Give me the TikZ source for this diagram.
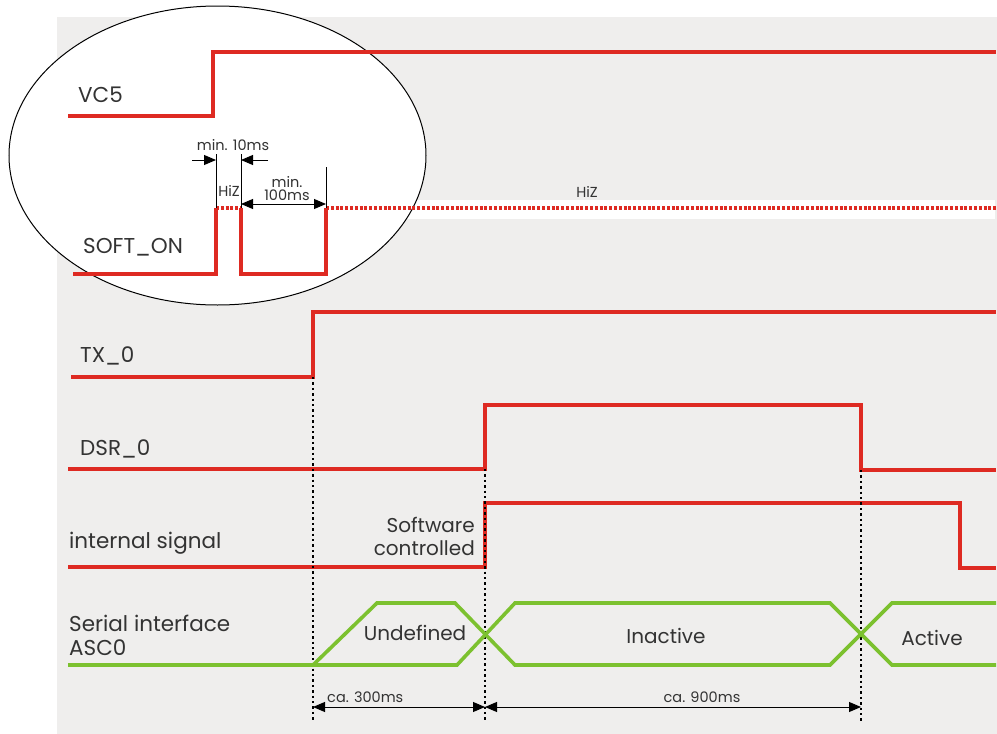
\documentclass[tikz,border=0pt]{standalone}
\usepackage{fontspec}
\setmainfont{Poppins}
\usetikzlibrary{arrows.meta}
\definecolor{sigred}{HTML}{DE2A22}
\definecolor{siggreen}{HTML}{7CC12F}
\definecolor{bggrey}{HTML}{EFEEED}
\definecolor{txt}{HTML}{333333}
\begin{document}
\begin{tikzpicture}[x=1pt,y=-1pt,
  redsig/.style={draw=sigred,line width=3.6pt,line join=miter},
  redhiz/.style={draw=sigred,line width=3.2pt,dash pattern=on 3pt off 1.8pt},
  greensig/.style={draw=siggreen,line width=3.6pt,line join=miter},
  guide/.style={draw=black,line width=2.4pt,dash pattern=on 2.4pt off 3pt},
  thinline/.style={draw=black,line width=0.9pt},
  dimarrow/.style={draw=black,line width=0.9pt,-{Triangle[length=12pt,width=10pt]}},
  dimboth/.style={draw=black,line width=0.9pt,{Triangle[length=12pt,width=10pt]}-{Triangle[length=12pt,width=10pt]}},
  siglabel/.style={anchor=west,text=txt,font=\fontsize{21.5}{24}\selectfont,inner sep=0pt},
  midlabel/.style={text=txt,font=\fontsize{20}{23}\selectfont,inner sep=0pt},
  smalllabel/.style={text=txt,font=\fontsize{14.5}{14}\selectfont,inner sep=0pt,align=center}
]
\useasboundingbox (0,0) rectangle (997,734);
\fill[white] (0,0) rectangle (997,734);
\fill[bggrey] (57,17) rectangle (997,734);
% white band behind HiZ line
\fill[white] (400,200) rectangle (995,219);
% ellipse
\draw[fill=white,line width=1pt] (217.5,155.5) ellipse [x radius=208.5pt, y radius=149.5pt];

% ---------- VC5 ----------
\node[siglabel] (lvc5) at (78,95) {VC5};
\coordinate (vc5a) at (68,116);
\coordinate (vc5b) at (213,116);
\coordinate (vc5c) at (213,52);
\coordinate (vc5d) at (996,52);
\draw[redsig] (vc5a) -- (vc5b) -- (vc5c) -- (vc5d);

% ---------- SOFT_ON ----------
\node[siglabel] (lsoft) at (83,247) {SOFT\_ON};
\coordinate (so1) at (73,274);
\coordinate (so2) at (216,274);
\coordinate (so3) at (216,208);
\coordinate (so4) at (241,208);
\coordinate (so5) at (241,274);
\coordinate (so6) at (326,274);
\coordinate (so7) at (326,208);
\coordinate (so8) at (996,208);
\draw[redsig] (so1) -- (so2) -- (so3);
\draw[redhiz] (so3) -- (so4);
\draw[redsig] (so4) -- (so5) -- (so6) -- (so7);
\draw[redhiz] (so7) -- (so8);

% dimension lines inside ellipse
\coordinate (d1t) at (216,154);
\coordinate (d2t) at (241,154);
\coordinate (d3t) at (326,167);
\draw[thinline] (d1t) -- (so3);
\draw[thinline] (d2t) -- (so4);
\draw[thinline] (d3t) -- (so7);
\coordinate (a1s) at (192,160);
\coordinate (a1e) at (216,160);
\coordinate (a2s) at (268,160);
\coordinate (a2e) at (241,160);
\draw[dimarrow] (a1s) -- (a1e);
\draw[dimarrow] (a2s) -- (a2e);
\node[smalllabel] (l10ms) at (233,145) {min. 10ms};
\node[smalllabel] (lhiz1) at (229,191) {HiZ};
\coordinate (b1) at (241,204);
\coordinate (b2) at (326,204);
\draw[dimboth] (b1) -- (b2);
\node[smalllabel] (lmin) at (287,182) {min.};
\node[smalllabel] (l100) at (287,195) {100ms};
\node[smalllabel] (lhiz2) at (587,192) {HiZ};

% ---------- TX_0 ----------
\node[siglabel] (ltx) at (80,356) {TX\_0};
\coordinate (tx1) at (71,377);
\coordinate (tx2) at (313,377);
\coordinate (tx3) at (313,312);
\coordinate (tx4) at (996,312);
\draw[redsig] (tx1) -- (tx2) -- (tx3) -- (tx4);

% ---------- DSR_0 ----------
\node[siglabel] (ldsr) at (80,449) {DSR\_0};
\coordinate (ds1) at (68,469);
\coordinate (ds2) at (485,469);
\coordinate (ds3) at (485,405);
\coordinate (ds4) at (861,405);
\coordinate (ds5) at (861,470);
\coordinate (ds6) at (996,470);
\draw[redsig] (ds1) -- (ds2) -- (ds3) -- (ds4) -- (ds5) -- (ds6);

% ---------- internal signal ----------
\node[siglabel] (lint) at (69,543) {internal signal};
\node[midlabel,anchor=east,align=right] (lsw) at (475,536) {Software\\controlled};
\coordinate (in1) at (68,567);
\coordinate (in2) at (485,567);
\coordinate (in3) at (485,503);
\coordinate (in4) at (960,503);
\coordinate (in5) at (960,568);
\coordinate (in6) at (996,568);
\draw[redsig] (in1) -- (in2) -- (in3) -- (in4) -- (in5) -- (in6);

% ---------- guides ----------
\coordinate (g1b) at (313,722);
\coordinate (g2b) at (485,722);
\coordinate (g3b) at (861,722);
\draw[guide] (tx2) -- (g1b);
\draw[guide] (ds2) -- (g2b);
\draw[guide] (ds5) -- (g3b);

% ---------- Serial interface ASC0 ----------
\node[siglabel,align=left] (lasc) at (69,635) {Serial interface\\ASC0};
\coordinate (gr0) at (68,665);
\coordinate (gr1) at (313,665);
\coordinate (gr2) at (377,603);
\coordinate (gr3) at (455,603);
\coordinate (gr4) at (457,665);
\coordinate (gr5) at (515,603);
\coordinate (gr6) at (515,665);
\coordinate (gr7) at (830,603);
\coordinate (gr8) at (830,665);
\coordinate (gr9) at (892,603);
\coordinate (gr10) at (892,665);
\coordinate (gr11) at (996,603);
\coordinate (gr12) at (996,665);
\draw[greensig] (gr0) -- (gr1) -- (gr2) -- (gr3) -- (gr6) -- (gr8) -- (gr9) -- (gr11);
\draw[greensig] (gr1) -- (gr4) -- (gr5) -- (gr7) -- (gr10) -- (gr12);
\node[midlabel] (lund) at (415,633) {Undefined};
\node[midlabel] (lina) at (666,636) {Inactive};
\node[midlabel] (lact) at (932,638) {Active};

% ---------- bottom dimensions ----------
\coordinate (m1) at (313,707);
\coordinate (m2) at (485,707);
\coordinate (m3) at (861,707);
\draw[dimboth] (m1) -- (m2);
\draw[dimboth] (m2) -- (m3);
\node[smalllabel,anchor=west] (l300) at (327,697) {ca. 300ms};
\node[smalllabel] (l900) at (702,697) {ca. 900ms};
\end{tikzpicture}
\end{document}
